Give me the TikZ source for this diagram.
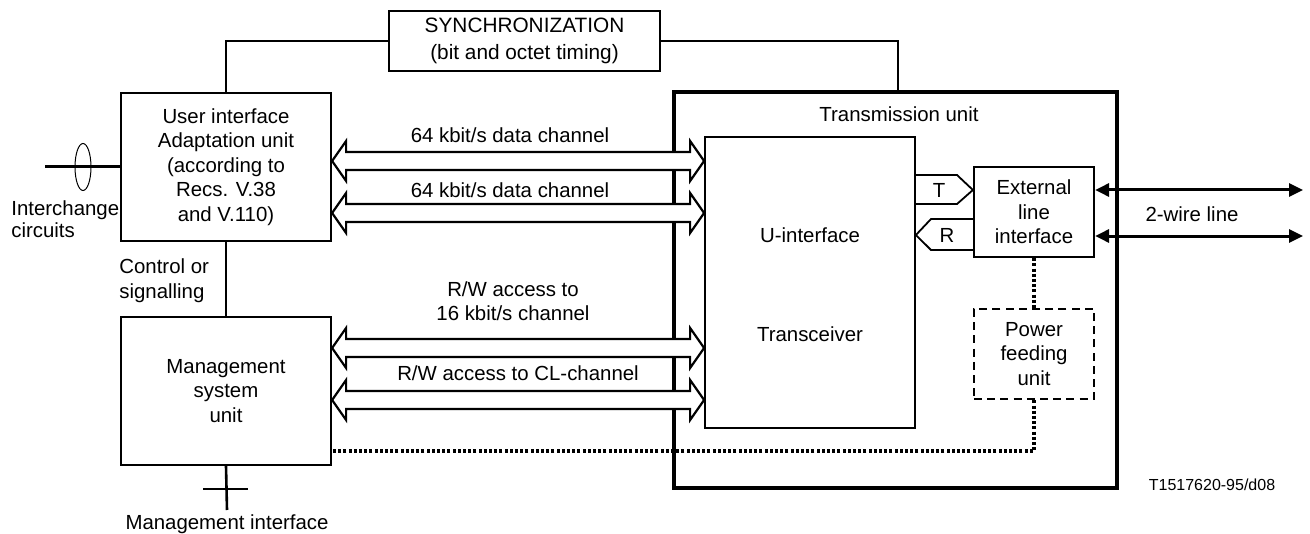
\documentclass[tikz,border=0pt]{standalone}
\usepackage{fontspec}
\setmainfont{Liberation Sans}
\usetikzlibrary{arrows.meta,calc}
\newcommand{\blkarrow}[2]{%
  \draw[blockarr] (#1) -- ++(14,-20) -- ++(0,11) -- ($(#2)+(-14,-9)$) -- ++(0,-11) -- (#2)
    -- ++(-14,20) -- ++(0,-11) -- ($(#1)+(14,9)$) -- ++(0,11) -- cycle;}
\begin{document}
\begin{tikzpicture}[x=0.5pt,y=-0.5pt,
  box/.style={draw,line width=1.1pt,inner sep=0pt,align=center,font=\fontsize{10.2}{12.25}\selectfont},
  txt/.style={inner sep=0pt,align=center,font=\fontsize{10.2}{12.25}\selectfont},
  blockarr/.style={draw,line width=1.1pt,fill=white,line join=miter},
  dots/.style={line width=1.6pt,dash pattern=on 1.5pt off 1.1pt},
  wire/.style={line width=1.1pt},
  twowire/.style={line width=1.5pt,{Triangle[length=7pt,width=6.5pt]}-{Triangle[length=7pt,width=6.5pt]}}
]
\useasboundingbox (0,0) rectangle (1310,534);

% transmission unit (outer)
\node[box,line width=2.4pt,minimum width=221.5pt,minimum height=198pt] (tu) at (895.5,290) {};
\node[txt] (tut) at (899,114) {Transmission unit};

% boxes
\node[box,minimum width=135.5pt,minimum height=30pt,font=\fontsize{10.4}{13.5}\selectfont] (sync) at (524.5,41) {SYNCHRONIZATION\\(bit and octet timing)};
\node[box,minimum width=105pt,minimum height=74pt] (ui) at (226,167) {User interface\\Adaptation unit\\(according to\\Recs. V.38\\and V.110)};
\node[box,minimum width=105pt,minimum height=74pt] (ms) at (226,391) {Management\\system\\unit};
\node[box,line width=0.9pt,minimum width=105pt,minimum height=145.5pt] (ut) at (810,282.5) {};
\node[txt] (utA) at (810,235) {U-interface};
\node[txt] (utB) at (810,334) {Transceiver};
\node[box,minimum width=60pt,minimum height=45pt] (ext) at (1034,212) {External\\line\\interface};
\node[box,dash pattern=on 4pt off 2.6pt,line width=1.3pt,minimum width=60pt,minimum height=45pt] (pw) at (1034,354) {Power\\feeding\\unit};

% synchronization lines
\coordinate (sr) at (sync.east -| 898,0);
\draw[wire] (ui.north) |- (sync.west);
\draw[wire] (sync.east) -- (sr) -- (sr |- tu.north);

% control line
\draw[wire] (ui.south) -- (ms.north);
\node[txt,align=left,anchor=west,font=\fontsize{10.2}{12.5}\selectfont] (ctl) at (119,280.5) {Control or\\signalling};

% interchange circuits
\coordinate (ic) at (45,167);
\draw[line width=1.5pt] (ic) -- (ui.west |- ic);
\draw[line width=0.5pt] (83,167) ellipse [x radius=8, y radius=23.5];
\node[txt,align=left,anchor=west,font=\fontsize{10.2}{11}\selectfont] (ict) at (11,219) {Interchange\\circuits};

% management interface
\coordinate (mi) at (227,510);
\draw[line width=1.3pt] (ms.south) -- (mi);
\draw[line width=1.3pt] (203,489) -- (248,489);
\node[txt] (mil) at (227,524) {Management interface};

% block arrows
\coordinate (a1l) at (ui.east |- 0,161); \coordinate (a1r) at (ut.west |- 0,161);
\coordinate (a2l) at (ui.east |- 0,213); \coordinate (a2r) at (ut.west |- 0,213);
\coordinate (a3l) at (ms.east |- 0,348); \coordinate (a3r) at (ut.west |- 0,348);
\coordinate (a4l) at (ms.east |- 0,400); \coordinate (a4r) at (ut.west |- 0,400);
\blkarrow{a1l}{a1r}
\blkarrow{a2l}{a2r}
\blkarrow{a3l}{a3r}
\blkarrow{a4l}{a4r}
\node[txt] (l1) at (510,135) {64 kbit/s data channel};
\node[txt] (l2) at (510,190) {64 kbit/s data channel};
\node[txt] (l3) at (513,301) {R/W access to\\16 kbit/s channel};
\node[txt] (l4) at (518,373) {R/W access to CL-channel};

% T and R tags
\coordinate (t1) at (ut.east |- 0,175); \coordinate (t2) at (ut.east |- 0,204);
\coordinate (r1) at (ext.west |- 0,219); \coordinate (r2) at (ext.west |- 0,250);
\draw[line width=0.9pt,line join=miter] (t1) -- (957,175) -- (ext.west |- 0,190) -- (957,204) -- (t2);
\draw[line width=0.9pt,line join=miter] (r1) -- (931,219) -- (ut.east |- 0,235) -- (931,250) -- (r2);
\node[txt] (tl) at (939,190) {T};
\node[txt] (rl) at (947,235) {R};

% 2-wire line
\coordinate (w1) at (1303,190); \coordinate (w2) at (1303,236);
\draw[twowire] (ext.east |- w1) -- (w1);
\draw[twowire] (ext.east |- w2) -- (w2);
\node[txt] (wl) at (1192,214) {2-wire line};

% dotted power lines
\draw[dots] (ext.south) -- (pw.north);
\coordinate (pc) at (1034,451);
\draw[dots] (pw.south) -- (pc) -- (ms.east |- pc);

% figure number
\node[txt,font=\fontsize{8}{9}\selectfont] (fig) at (1212,485) {T1517620-95/d08};
\end{tikzpicture}
\end{document}
